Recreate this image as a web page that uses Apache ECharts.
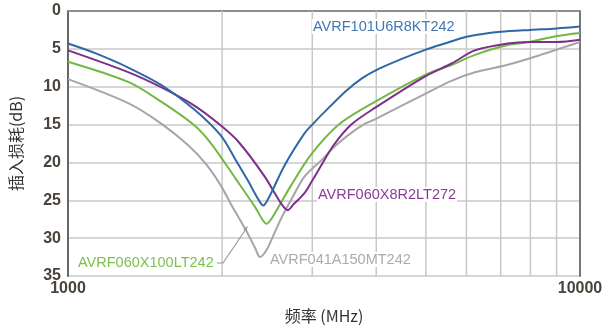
<!DOCTYPE html>
<html lang="zh">
<head>
<meta charset="UTF-8">
<title>插入损耗</title>
<script src="https://cdn.jsdelivr.net/npm/echarts@6/dist/echarts.min.js"></script>
<style>
    body{ margin:0; background:#fff; }
    #chart{ width:609px; height:329px; }
</style>
</head>
<body>
<div id="chart"></div>
<script>
// 频率 (MHz), 插入损耗 (dB)
var blueData = [[1000,4.3],[1133,5.6],[1314,7.5],[1523,9.8],[1765,13.0],[1986,16.4],[2123,19.6],[2250,22.5],[2350,24.8],[2406,25.7],[2470,24.6],[2648,20.4],[2894,16.2],[3000,15.0],[3250,12.6],[3500,10.5],[3750,8.9],[4000,7.8],[4500,6.3],[5000,5.1],[5500,4.2],[6000,3.4],[6500,3.0],[7000,2.75],[8000,2.5],[9000,2.3],[10000,2.05]];
var greenData = [[1000,6.7],[1314,9.4],[1523,12.0],[1765,15.1],[1913,17.7],[2123,22.1],[2320,25.9],[2400,27.6],[2443,28.1],[2510,27.2],[2729,23.0],[2981,19.0],[3380,15.0],[3976,12.0],[4996,8.4],[5623,7.1],[6234,5.8],[7225,4.5],[7951,4.1],[9019,3.3],[10000,2.9]];
var purpleData = [[1000,5.2],[1314,8.1],[1523,10.1],[1765,12.5],[1986,15.1],[2154,17.3],[2424,21.9],[2600,25.3],[2687,26.3],[2760,25.5],[2894,24.1],[3000,22.4],[3116,20.5],[3304,17.7],[3575,15.0],[3976,12.8],[4996,8.6],[5623,6.9],[6234,5.2],[7225,4.3],[7951,4.1],[9019,4.1],[10000,3.8]];
var grayData = [[1000,9.0],[1314,12.2],[1523,14.9],[1715,17.7],[1859,20.2],[1986,23.0],[2100,26.0],[2220,28.8],[2320,31.3],[2371,32.5],[2440,31.6],[2520,29.6],[2612,27.3],[2750,24.5],[2894,21.9],[3139,19.6],[3304,18.0],[3558,16.2],[3776,15.0],[3976,14.3],[4996,10.9],[5623,9.2],[6234,8.1],[7225,7.1],[8376,5.8],[10000,4.1]];
var seriesNames = ['AVRF101U6R8KT242','AVRF060X100LT242','AVRF060X8R2LT272','AVRF041A150MT242'];
var minorFreqs = [2000,3000,4000,5000,6000,7000,8000,9000];
var yRange = [0, 35];

var chart = echarts.init(document.getElementById('chart'));
var tickColor = '#4a433c';

function line(name, data, color, z){
    return {
        name: name,
        type: 'line',
        data: data,
        smooth: 0.3,
        showSymbol: false,
        z: z,
        lineStyle: { color: color, width: 2 }
    };
}

function label(text, x, y, color){
    return {
        type: 'text', left: x, top: y, z: 100,
        style: { text: text, fill: color, font: '14.5px "Liberation Sans"',
                 backgroundColor: '#fff', padding: [0, 1] }
    };
}

var series = [];
// 竖向网格线 (对数刻度 2000..9000)
minorFreqs.forEach(function(f){
    series.push({
        type: 'line',
        silent: true,
        showSymbol: false,
        z: 1,
        data: [[f, yRange[0]], [f, yRange[1]]],
        lineStyle: { color: '#c8c8c8', width: 1.5 }
    });
});
series.push(line(seriesNames[3], grayData, '#a6a6a6', 3));
series.push(line(seriesNames[1], greenData, '#72b843', 4));
series.push(line(seriesNames[2], purpleData, '#7d2f8c', 5));
series.push(line(seriesNames[0], blueData, '#2f68a6', 6));

chart.setOption({
    animation: false,
    grid: { left: 60, right: 29, top: 11, bottom: 43 },
    xAxis: [{
        type: 'log',
        logBase: 10,
        min: 1000,
        max: 10000,
        name: '频率 (MHz)',
        nameLocation: 'middle',
        nameGap: 32,
        nameTextStyle: { fontSize: 16, color: '#333', fontFamily: 'Noto Sans CJK SC' },
        axisLine: { lineStyle: { color: '#666', width: 2 } },
        axisTick: { show: false },
        splitLine: { show: false },
        axisLabel: { fontSize: 16, color: tickColor, fontWeight: 'bold', fontFamily: 'Liberation Sans', margin: 5,
            formatter: function(v){ return String(v); } }
    }, {
        type: 'log',
        logBase: 10,
        min: 1000,
        max: 10000,
        position: 'top',
        axisLine: { lineStyle: { color: '#9a9a9a', width: 1.5 } },
        axisTick: { show: false },
        axisLabel: { show: false },
        splitLine: { show: false }
    }],
    yAxis: [{
        type: 'value',
        inverse: true,
        min: yRange[0],
        max: yRange[1],
        interval: 5,
        name: '插入损耗(dB)',
        nameLocation: 'middle',
        nameGap: 44,
        nameTextStyle: { fontSize: 16, color: '#333', fontFamily: 'Noto Sans CJK SC' },
        axisLine: { show: true, lineStyle: { color: '#666', width: 2 } },
        axisTick: { show: false },
        splitLine: { lineStyle: { color: '#c8c8c8', width: 1.5 } },
        axisLabel: { fontSize: 16, color: tickColor, fontWeight: 'bold', fontFamily: 'Liberation Sans', margin: 7 }
    }, {
        type: 'value',
        inverse: true,
        min: yRange[0],
        max: yRange[1],
        position: 'right',
        axisLine: { show: true, lineStyle: { color: '#777', width: 2 } },
        axisTick: { show: false },
        axisLabel: { show: false },
        splitLine: { show: false }
    }],
    series: series,
    graphic: [
        label(seriesNames[0], 312, 19, '#4277b3'),
        label(seriesNames[2], 317, 187, '#8a3c98'),
        label(seriesNames[1], 77, 255, '#7dbf4c'),
        label(seriesNames[3], 269, 252, '#ababab'),
        { type: 'polyline', z: 100, shape: { points: [[217,263],[223,263],[246,229]] }, style: { stroke: '#9a9a9a', lineWidth: 1.2, fill: null } },
        { type: 'polygon', z: 100, shape: { points: [[248,226],[243,229],[246,231]] }, style: { fill: '#9a9a9a' } }
    ]
});
</script>
</body>
</html>
